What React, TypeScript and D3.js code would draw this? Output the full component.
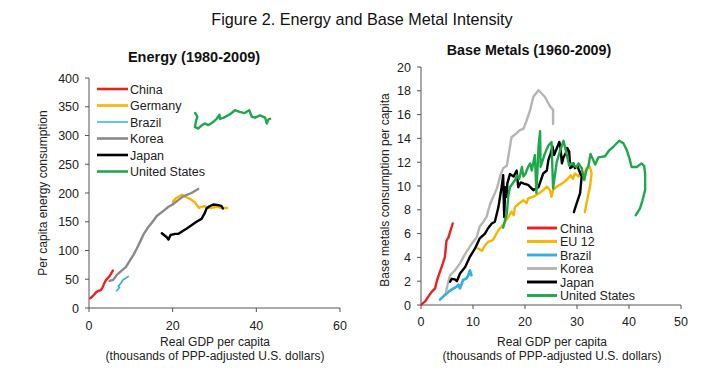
import React from "react";
import * as d3 from "d3";

type Pt = [number, number];

// ---------- Energy (1980-2009): [GDP per capita (k$), energy per capita] ----------
const energyChina: Pt[] = [[0.3,17],[0.8,20],[1.3,24],[1.8,28],[2.3,30],[2.8,31],[3.2,35],[3.6,42],[4.0,48],[4.5,52],[5.0,56],[5.3,60],[5.7,65]];
const energyGermany: Pt[] = [[20.2,187],[20.0,180],[20.6,190],[22.2,197],[23.2,193],[24.3,189],[25.3,184],[26.3,174],[27.5,177],[28.9,174],[30.5,176],[32.0,174],[33.0,174]];
const energyBrazil: Pt[] = [[6.6,30],[7.0,33],[7.3,36],[7.0,38],[7.5,42],[7.8,45],[8.0,48],[8.4,50],[8.8,52],[9.4,55]];
const energyKorea: Pt[] = [[4.9,47],[5.8,49],[6.6,57],[7.8,65],[8.8,71],[9.8,83],[10.6,92],[11.4,103],[12.2,115],[13.1,129],[14.2,141],[15.2,150],[16.2,160],[17.8,169],[19.0,176],[20.0,180],[21.4,188],[22.5,194],[24.5,200],[26.1,207]];
const energyJapan: Pt[] = [[17.4,130],[18.6,123],[19.0,119],[19.5,127],[20.6,129],[21.4,129],[22.4,134],[23.3,138],[24.5,144],[25.7,150],[26.9,155],[27.6,164],[28.1,173],[28.8,177],[29.7,180],[30.9,179],[31.7,177],[32.0,173]];
const energyUS: Pt[] = [[25.4,339],[25.9,333],[25.6,326],[25.3,315],[26.1,312],[27.0,318],[27.7,321],[28.5,318],[29.6,323],[30.5,329],[31.2,336],[31.3,329],[32.2,331],[33.7,337],[34.9,344],[36.0,341],[37.2,339],[38.3,344],[38.9,333],[39.7,331],[40.9,335],[42.1,331],[42.5,321],[42.9,328],[43.3,329]];

const energyNames = ["China", "Germany", "Brazil", "Korea", "Japan", "United States"];

// ---------- Base Metals (1960-2009) ----------
const metalChina: Pt[] = [[0.1,0.05],[0.8,0.3],[1.4,0.7],[2.05,1.1],[2.7,1.4],[3.1,2.1],[3.65,2.8],[4.2,3.5],[4.6,4.05],[4.9,5.4],[5.3,5.7],[5.6,6.15],[6.1,6.85]];
const metalEU12: Pt[] = [[11.0,4.75],[11.7,4.55],[12.3,5.0],[12.9,5.3],[13.8,5.45],[14.2,5.75],[14.9,6.3],[15.5,6.6],[16.2,7.0],[16.8,7.4],[17.4,7.85],[17.8,7.55],[18.1,8.25],[18.9,8.55],[19.7,8.8],[20.3,8.55],[20.6,8.95],[21.6,9.1],[22.6,9.35],[23.5,9.65],[24.2,9.95],[24.8,9.65],[25.1,9.1],[25.4,9.65],[26.1,9.95],[27.1,10.2],[28.0,10.5],[28.8,10.9],[29.2,10.6],[29.6,11.05],[30.3,10.8],[30.7,11.2],[31.2,10.9],[31.9,11.5],[32.5,11.6],[32.8,11.05],[32.5,9.95],[31.9,8.7],[31.5,7.8]];
const metalBrazil: Pt[] = [[3.65,0.45],[4.6,0.85],[5.25,1.1],[5.9,1.3],[6.85,1.55],[7.2,1.7],[7.5,1.4],[8.1,2.1],[8.8,2.25],[9.1,2.5],[9.4,2.9],[9.7,2.5]];
const metalKorea: Pt[] = [[4.8,1.1],[5.1,1.7],[5.6,2.5],[6.5,2.9],[7.5,3.5],[8.5,4.3],[9.4,4.9],[10.0,5.3],[10.7,5.7],[11.3,6.6],[12.0,7.0],[12.6,7.4],[13.3,8.5],[13.9,9.1],[14.6,9.8],[15.2,10.8],[15.8,11.5],[16.5,11.7],[17.0,13.0],[17.4,14.1],[18.3,14.4],[19.0,14.7],[19.7,14.8],[20.3,15.5],[21.0,16.4],[21.6,17.5],[22.6,18.05],[23.8,17.5],[24.8,16.7],[25.4,16.4],[25.4,15.2]];
const metalJapan: Pt[] = [[5.6,1.95],[5.9,2.2],[6.5,2.15],[6.9,2.0],[7.5,2.65],[8.5,3.2],[9.4,4.05],[10.4,4.75],[11.3,5.6],[12.3,6.0],[12.9,6.45],[13.6,6.85],[14.2,7.0],[14.9,8.25],[15.2,9.1],[15.5,9.9],[15.8,10.9],[16.0,7.4],[16.2,9.9],[16.5,9.1],[16.6,10.2],[17.1,11.0],[17.8,10.8],[18.4,11.3],[18.7,9.9],[19.2,10.3],[19.8,10.2],[20.6,10.1],[21.6,9.65],[22.6,9.9],[23.5,11.05],[24.2,11.3],[24.5,12.2],[24.9,12.7],[25.3,13.3],[25.6,12.6],[26.1,13.15],[26.6,13.7],[26.8,13.3],[27.1,11.9],[27.4,12.4],[27.9,12.8],[28.1,13.2],[28.5,12.9],[28.7,11.5],[29.0,11.6],[29.3,11.9],[29.6,11.5],[30.1,11.7],[30.4,11.3],[30.9,10.8],[30.6,9.4],[29.9,8.5],[29.4,7.8]];
const metalUS: Pt[] = [[15.8,6.5],[16.5,7.7],[16.8,9.2],[17.1,9.9],[18.1,10.5],[18.4,10.9],[18.9,10.6],[19.4,11.6],[19.7,10.8],[20.1,11.05],[20.6,11.6],[21.0,11.9],[21.3,11.3],[21.9,12.6],[22.2,9.4],[22.6,13.3],[22.9,14.6],[23.0,11.6],[23.8,12.7],[24.5,13.4],[25.1,13.7],[25.4,9.8],[26.1,12.0],[26.7,12.9],[27.4,13.8],[28.0,12.7],[28.5,11.7],[29.0,11.9],[29.9,11.6],[30.3,11.9],[30.9,11.5],[31.4,10.5],[31.8,11.3],[32.2,11.7],[32.6,12.7],[33.5,11.8],[34.1,12.4],[35.4,12.5],[36.2,13.0],[37.0,13.3],[38.1,13.8],[38.9,13.6],[39.6,13.0],[40.1,12.3],[40.5,11.6],[41.5,11.6],[42.4,11.9],[42.9,11.7],[43.1,11.05],[43.1,9.65],[42.6,8.8],[42.1,8.1],[41.3,7.55]];

const metalNames = ["China", "EU 12", "Brazil", "Korea", "Japan", "United States"];

const energyTicksX = [0, 20, 40, 60];
const energyTicksY = [0, 50, 100, 150, 200, 250, 300, 350, 400];
const metalTicksX = [0, 10, 20, 30, 40, 50];
const metalTicksY = [0, 2, 4, 6, 8, 10, 12, 14, 16, 18, 20];

const RED = "#e8231f";
const GOLD = "#f7b500";
const BLUE = "#33aee6";
const GREY_DARK = "#8a8a8a";
const GREY_LIGHT = "#b5b5b5";
const BLACK = "#000000";
const GREEN = "#1fa84b";

const FONT = "'Liberation Sans', Arial, sans-serif";
const AXIS = "#555555";

function Panel(props: {
  x: d3.ScaleLinear<number, number>;
  y: d3.ScaleLinear<number, number>;
  ticksX: number[];
  ticksY: number[];
  series: { data: Pt[]; color: string; width: number }[];
  names: string[];
  legend: { x1: number; x2: number; tx: number; y0: number; dy: number; widths: number[] };
  title: string;
  titleX: number;
  titleY: number;
  titleSize: number;
  yLabel: string;
  yLabelX: number;
  yLabelY: number;
  xLabelX: number;
  tickLabelY: number;
}) {
  const { x, y } = props;
  const line = d3.line<Pt>().x((d) => x(d[0])).y((d) => y(d[1]));
  const [x0, x1] = x.range();
  const [y0, y1] = y.range();
  return (
    <g fontFamily={FONT}>
      <text x={props.titleX} y={props.titleY} textAnchor="middle" fontSize={props.titleSize} fontWeight="bold" fill="#111">
        {props.title}
      </text>
      <line x1={x0} x2={x1} y1={y0} y2={y0} stroke={AXIS} strokeWidth={1} />
      <line x1={x0} x2={x0} y1={y0} y2={y1} stroke={AXIS} strokeWidth={1} />
      {props.ticksX.map((t) => (
        <g key={"x" + t}>
          <line x1={x(t)} x2={x(t)} y1={y0} y2={y0 + 4} stroke={AXIS} />
          <text x={x(t)} y={props.tickLabelY} textAnchor="middle" fontSize={12.5} fill="#222">
            {t}
          </text>
        </g>
      ))}
      {props.ticksY.map((t) => (
        <g key={"y" + t}>
          <line x1={x0 - 4} x2={x0} y1={y(t)} y2={y(t)} stroke={AXIS} />
          <text x={x0 - 10} y={y(t) + 4.5} textAnchor="end" fontSize={12.5} fill="#222">
            {t}
          </text>
        </g>
      ))}
      {props.series.map((s, i) => (
        <path key={i} d={line(s.data) || ""} fill="none" stroke={s.color} strokeWidth={s.width} strokeLinejoin="round" strokeLinecap="round" />
      ))}
      {props.names.map((n, i) => {
        const ly = props.legend.y0 + i * props.legend.dy;
        return (
          <g key={"l" + n}>
            <line x1={props.legend.x1} x2={props.legend.x2} y1={ly} y2={ly} stroke={props.series[i].color} strokeWidth={props.legend.widths[i]} />
            <text x={props.legend.tx} y={ly + 4.5} fontSize={12.5} fill="#222">
              {n}
            </text>
          </g>
        );
      })}
      <text transform={`translate(${props.yLabelX},${props.yLabelY}) rotate(-90)`} textAnchor="middle" fontSize={12} fill="#222">
        {props.yLabel}
      </text>
      <text x={props.xLabelX} y={346} textAnchor="middle" fontSize={12} fill="#222">
        Real GDP per capita
      </text>
      <text x={props.xLabelX} y={360} textAnchor="middle" fontSize={12} fill="#222">
        (thousands of PPP-adjusted U.S. dollars)
      </text>
    </g>
  );
}

export default function App() {
  const xL = d3.scaleLinear().domain([0, 60]).range([89, 340]);
  const yL = d3.scaleLinear().domain([0, 400]).range([308, 78]);
  const xR = d3.scaleLinear().domain([0, 50]).range([421, 681]);
  const yR = d3.scaleLinear().domain([0, 20]).range([305, 67]);

  return (
    <svg width={704} height={375} style={{ position: "absolute", left: 0, top: 0, background: "#fff" }}>
      <rect width={704} height={375} fill="#fff" />
      <text x={362} y={25} textAnchor="middle" fontSize={16.2} fontFamily={FONT} fill="#111">
        Figure 2. Energy and Base Metal Intensity
      </text>
      <Panel
        x={xL}
        y={yL}
        ticksX={energyTicksX}
        ticksY={energyTicksY}
        series={[
          { data: energyChina, color: RED, width: 2.4 },
          { data: energyGermany, color: GOLD, width: 2.4 },
          { data: energyBrazil, color: BLUE, width: 1.7 },
          { data: energyKorea, color: GREY_DARK, width: 2.4 },
          { data: energyJapan, color: BLACK, width: 2.4 },
          { data: energyUS, color: GREEN, width: 2.4 },
        ]}
        names={energyNames}
        legend={{ x1: 97, x2: 128, tx: 130, y0: 89, dy: 16.5, widths: [2.6, 2.6, 1.5, 2.6, 2.6, 2.6] }}
        title="Energy (1980-2009)"
        titleX={194}
        titleY={62}
        titleSize={14.5}
        yLabel="Per capita energy consumption"
        yLabelX={47}
        yLabelY={193}
        xLabelX={215}
        tickLabelY={330}
      />
      <Panel
        x={xR}
        y={yR}
        ticksX={metalTicksX}
        ticksY={metalTicksY}
        series={[
          { data: metalChina, color: RED, width: 2.4 },
          { data: metalEU12, color: GOLD, width: 2.4 },
          { data: metalBrazil, color: BLUE, width: 2.7 },
          { data: metalKorea, color: GREY_LIGHT, width: 2.4 },
          { data: metalJapan, color: BLACK, width: 2.4 },
          { data: metalUS, color: GREEN, width: 2.4 },
        ]}
        names={metalNames}
        legend={{ x1: 527, x2: 557, tx: 560, y0: 228, dy: 13.5, widths: [2.9, 2.9, 2.9, 2.9, 2.9, 2.9] }}
        title="Base Metals (1960-2009)"
        titleX={529}
        titleY={55}
        titleSize={14.3}
        yLabel="Base metals consumption per capita"
        yLabelX={389}
        yLabelY={190}
        xLabelX={552}
        tickLabelY={326}
      />
    </svg>
  );
}
